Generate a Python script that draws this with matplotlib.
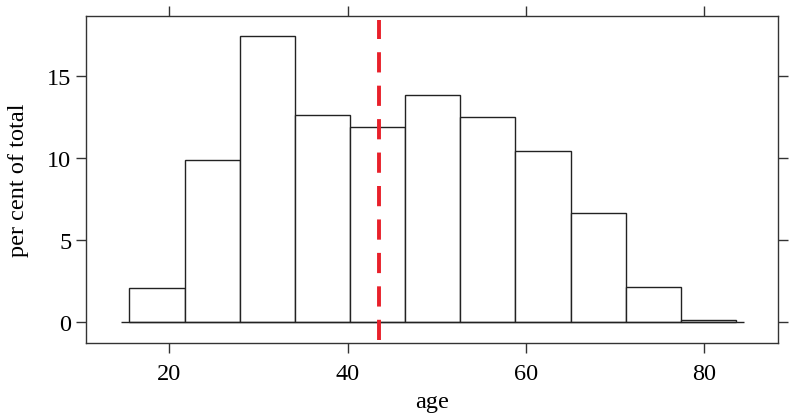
import matplotlib
matplotlib.use('Agg')
import matplotlib.pyplot as plt

# histogram of age, percent of total per bin
bin_edges = [15.5, 21.7, 27.9, 34.1, 40.2, 46.4, 52.6, 58.8, 65.0, 71.2, 77.4, 83.5]
percents = [2.1, 9.9, 17.4, 12.6, 11.9, 13.85, 12.5, 10.4, 6.65, 2.12, 0.16]
mean_age = 43.5

x_ticks = [20, 40, 60, 80]
y_ticks = [0, 5, 10, 15]

plt.rcParams['font.family'] = ['Liberation Serif', 'DejaVu Serif']

fig = plt.figure(figsize=(7.92, 4.14), dpi=100)
ax = fig.add_axes([0.1086, 0.169, 0.8737, 0.789])

frame = '#333333'

widths = [b - a for a, b in zip(bin_edges[:-1], bin_edges[1:])]
ax.bar(bin_edges[:-1], percents, width=widths, align='edge',
       color='white', edgecolor='#222222', linewidth=1.0)
ax.hlines(0, 14.6, 84.4, color='#222222', linewidth=1.0, zorder=3)

ax.vlines(mean_age, -1.06, 18.42, color='#e8202a', linewidth=2.8,
          linestyles=(0, (5.2, 3.4)), zorder=4)

ax.set_xlim(10.64, 88.25)
ax.set_ylim(-1.26, 18.62)

ax.set_xticks(x_ticks)
ax.set_yticks(y_ticks)
ax.tick_params(direction='out', length=7.5, width=1, color=frame,
               top=True, right=True, labeltop=False, labelright=False,
               labelsize=17.5, pad=3)
ax.tick_params(axis='x', pad=7)

for s in ax.spines.values():
    s.set_color(frame)
    s.set_linewidth(1)

ax.set_xlabel('age', fontsize=17.5, labelpad=5)
ax.set_ylabel('per cent of total', fontsize=17.5, labelpad=13)

plt.savefig('out.png', dpi=100)
